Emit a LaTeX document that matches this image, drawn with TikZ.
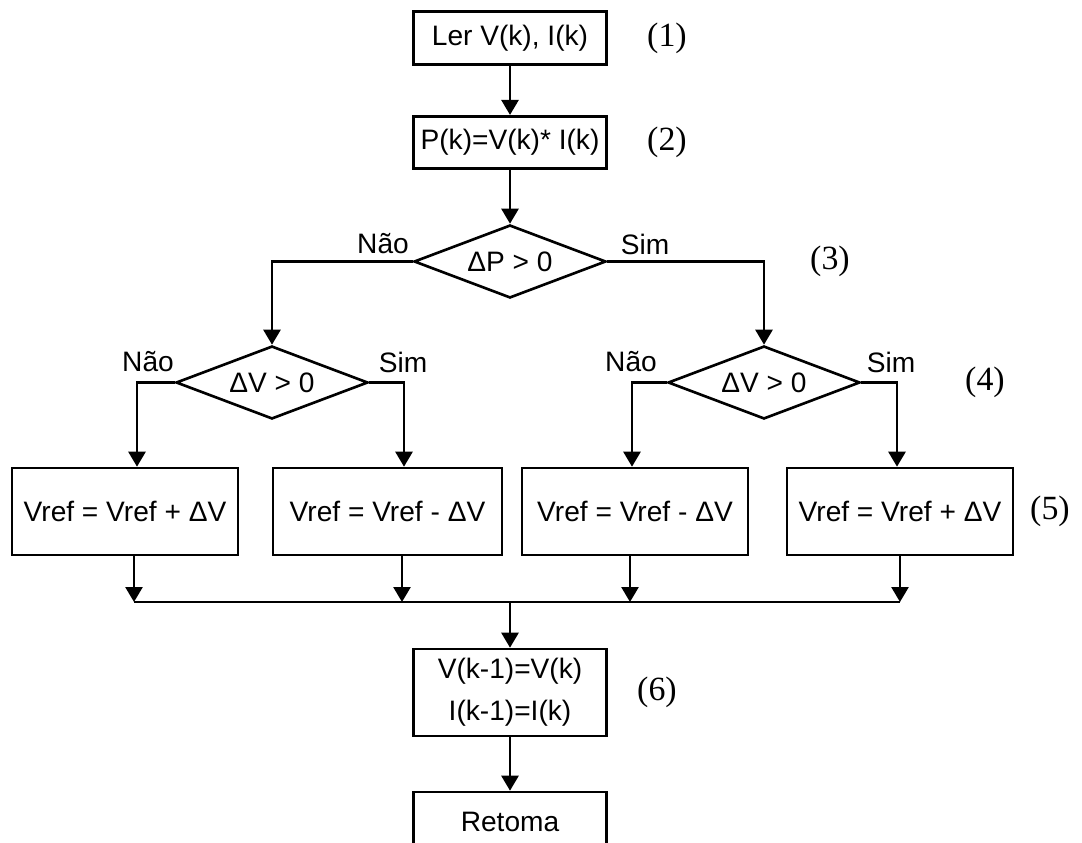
\documentclass[tikz,border=0pt]{standalone}
\usepackage{fontspec}
\setmainfont{Liberation Sans}
\newfontfamily\numfont{Liberation Serif}
\usetikzlibrary{arrows.meta,shapes.geometric,positioning}

\begin{document}
\begin{tikzpicture}
[x=0.02cm, y=-0.02cm, line width=1.5pt, draw=black,
font=\fontsize{16}{24}\selectfont,
>={Triangle[width=0.34cm,length=0.3cm]},
procbox/.style={rectangle,draw=black,inner sep=0pt,minimum width=3.86cm,minimum height=1.05cm,align=center},
vrefbox/.style={rectangle,draw=black,inner sep=0pt,minimum width=4.52cm,minimum height=1.74cm},
decision/.style={diamond,draw=black,inner sep=0pt,aspect=2.6,minimum width=3.84cm,minimum height=1.46cm},
steplabel/.style={inner sep=0pt,font=\numfont\fontsize{19.3}{23}\selectfont},
branchlabel/.style={inner sep=0pt}
]

\useasboundingbox (0,0) rectangle (1082,842);
\clip (0,0) rectangle (1082,842);

\def \colm {510}
\def \rowa {38}
\def \rowb {142.5}
\def \rowc {261.5}
\def \rowd {382.5}
\def \rowe {511.5}
\def \rowm {602}
\def \rowf {692.5}
\def \rowg {822}

% Top boxes
  \node[procbox] (read) at (\colm,\rowa) {Ler V(k), I(k)};
  \node[procbox] (power) at (\colm,\rowb) {P(k)=V(k)* I(k)};

% Decisions
  \node[decision] (dp) at (\colm,\rowc) {ΔP > 0};
  \node[decision] (dvl) at (272,\rowd) {ΔV > 0};
  \node[decision] (dvr) at (764,\rowd) {ΔV > 0};

% Update boxes
\foreach \n/\x/\w/\s in {A/125/4.52/+, B/387.5/4.58/-, C/635/4.52/-, D/900/4.52/+} {
  \node[vrefbox,minimum width=\w cm] (upd\n) at (\x,\rowe) {Vref = Vref \s{} ΔV};
}

% Bottom boxes
  \node[procbox,minimum height=1.74cm] (store) at (\colm,\rowf) {V(k-1)=V(k)\\I(k-1)=I(k)};
  \node[procbox,minimum height=1.2cm] (back) at (\colm,\rowg) {Retoma};

% Step numbers
  \node[steplabel] (s1) at (667,\rowa) {(1)};
  \node[steplabel] (s2) at (667,\rowb) {(2)};
  \node[steplabel] (s3) at (830,\rowc) {(3)};
  \node[steplabel] (s4) at (985,\rowd) {(4)};
  \node[steplabel] (s5) at (1050,\rowe) {(5)};
  \node[steplabel] (s6) at (657,\rowf) {(6)};

% Branch labels
  \node[branchlabel] (nao3) at (383,244) {Não};
  \node[branchlabel] (sim3) at (645,244) {Sim};
  \node[branchlabel] (nao4l) at (148,362) {Não};
  \node[branchlabel] (sim4l) at (403,362) {Sim};
  \node[branchlabel] (nao4r) at (631,362) {Não};
  \node[branchlabel] (sim4r) at (891,362) {Sim};

% Junction points
\foreach \n/\xi/\xo in {A/137/134, B/404/402, C/632/630, D/897/900} {
  \coordinate (in\n) at (\xi,0);
  \coordinate (out\n) at (\xo,\rowm);
}

% Edges
\draw[->] (read) -- (power);
\draw[->] (power) -- (dp);
\draw[->] (dp.west) -| (dvl.north);
\draw[->] (dp.east) -| (dvr.north);
\draw[->] (dvl.west) -| (inA |- updA.north);
\draw[->] (dvl.east) -| (inB |- updB.north);
\draw[->] (dvr.west) -| (inC |- updC.north);
\draw[->] (dvr.east) -| (inD |- updD.north);

\foreach \n in {A,B,C,D} {
  \draw[->] (out\n |- upd\n.south) -- (out\n);
}
\draw (outA) -- (outD);
\draw[->] (store.north |- outA) -- (store.north);
\draw[->] (store) -- (back);
\end{tikzpicture}
\end{document}
